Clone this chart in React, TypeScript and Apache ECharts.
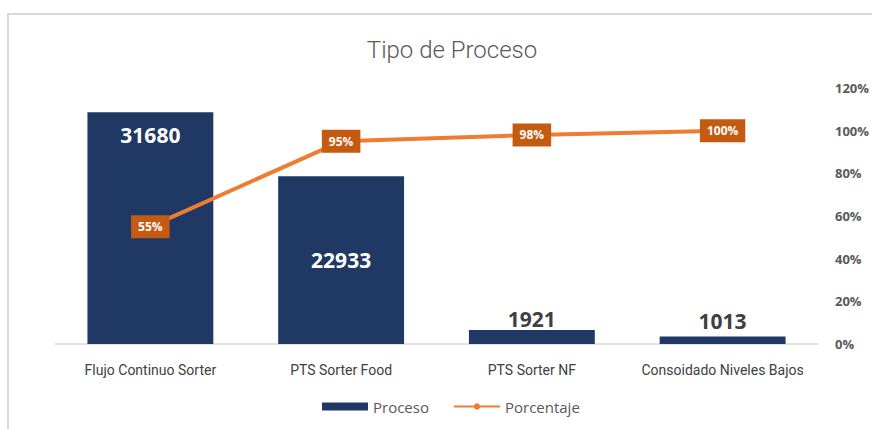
import React, { useEffect, useRef } from "react";
import * as echarts from "echarts";

const categories = ["Flujo Continuo Sorter", "PTS Sorter Food", "PTS Sorter NF", "Consoidado Niveles Bajos"];
const procesoValues = [31680, 22933, 1921, 1013];
const porcentajeValues = [0.55, 0.95, 0.98, 1.0];
const percentTicks = [0, 0.2, 0.4, 0.6, 0.8, 1.0, 1.2];

export default function App() {
  const ref = useRef<HTMLDivElement>(null);
  useEffect(() => {
    if (!ref.current) return;
    const chart = echarts.init(ref.current, null, { renderer: "svg" });
    const barLabelPos: any[] = [
      { position: "insideTop", distance: 12, color: "#ffffff" },
      { position: "inside", color: "#ffffff" },
      { position: "top", distance: 0, color: "#404040" },
      { position: "top", distance: 5, color: "#404040" },
    ];
    chart.setOption({
      animation: false,
      backgroundColor: "#ffffff",
      title: {
        text: "Tipo de Proceso",
        left: 447,
        textAlign: "center",
        top: 33,
        textStyle: { fontFamily: "Roboto", fontWeight: 300, fontSize: 24, color: "#595959" },
      },
      graphic: [
        {
          type: "rect",
          shape: { x: 8, y: 14, width: 900, height: 500 },
          style: { fill: "none", stroke: "#d9d9d9", lineWidth: 2 },
          silent: true,
        },
      ],
      legend: {
        bottom: 10,
        left: 317,
        itemWidth: 46,
        itemHeight: 8,
        itemGap: 24,
        textStyle: { fontFamily: "Open Sans", fontSize: 15, color: "#595959" },
        data: [
          { name: "Proceso", icon: "rect" },
          { name: "Porcentaje" },
        ],
      },
      grid: { left: 55, right: 54, top: 88, bottom: 85 },
      xAxis: {
        type: "category",
        data: categories,
        axisLine: { lineStyle: { color: "#d9d9d9", width: 1.5 } },
        axisTick: { show: false },
        axisLabel: { interval: 0, fontFamily: "Roboto", fontSize: 14, color: "#404040", margin: 19 },
      },
      yAxis: [
        {
          type: "value",
          min: 0,
          max: 35000,
          show: false,
          splitLine: { show: false },
        },
        {
          type: "value",
          min: 0,
          max: 1.2,
          interval: 0.2,
          position: "right",
          axisLine: { show: false },
          axisTick: { show: false },
          splitLine: { show: false },
          axisLabel: {
            margin: 17,
            fontFamily: "Open Sans",
            fontWeight: "bold",
            fontSize: 13,
            color: "#595959",
            formatter: (v: number) => {
              const t = percentTicks.find((p) => Math.abs(p - v) < 1e-6);
              return Math.round((t ?? v) * 100) + "%";
            },
          },
        },
      ],
      series: [
        {
          name: "Proceso",
          type: "bar",
          yAxisIndex: 0,
          barCategoryGap: "34%",
          itemStyle: { color: "#203864" },
          data: procesoValues.map((v, i) => ({
            value: v,
            label: {
              show: true,
              fontFamily: "Open Sans",
              fontWeight: "bold",
              fontSize: 21,
              ...barLabelPos[i],
            },
          })),
        },
        {
          name: "Porcentaje",
          type: "line",
          yAxisIndex: 1,
          data: porcentajeValues,
          lineStyle: { color: "#ED7D31", width: 4 },
          itemStyle: { color: "#ED7D31" },
          symbol: "circle",
          symbolSize: 7,
          z: 5,
          label: {
            show: true,
            position: "inside",
            formatter: (p: any) => Math.round(p.value * 100) + "%",
            backgroundColor: "#C55A11",
            color: "#ffffff",
            fontFamily: "Open Sans",
            fontWeight: "bold",
            fontSize: 12,
            padding: [6, 7, 5, 7],
          },
        },
      ],
    });
    return () => chart.dispose();
  }, []);
  return (
    <div
      ref={ref}
      style={{ position: "absolute", left: 0, top: 0, width: 872, height: 429 }}
    />
  );
}
